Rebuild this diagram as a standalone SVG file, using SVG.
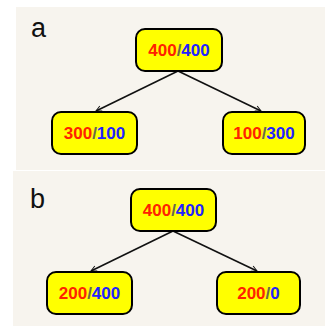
<svg xmlns="http://www.w3.org/2000/svg" width="325" height="326" viewBox="0 0 325 326">
<defs>
<style>
.bg{fill:#f7f4ee}
.node{fill:#ffff00;stroke:#000;stroke-width:2}
.t{font-family:"Liberation Sans",Arial,sans-serif;font-weight:bold;font-size:17px;text-anchor:middle}
.r{fill:#ff2200}
.b{fill:#2222ff}
.s{fill:#6a6a4a}
.lab{font-family:"Liberation Sans",Arial,sans-serif;font-size:27px;fill:#111}
.edge{stroke:#111;stroke-width:1.6;fill:none}
</style>
<marker id="arr" viewBox="0 0 10 10" refX="9" refY="5" markerWidth="7" markerHeight="7" orient="auto" markerUnits="userSpaceOnUse">
<path d="M1,1 L9,5 L1,9" fill="none" stroke="#111" stroke-width="1.4"/>
</marker>
</defs>
<rect class="bg" x="16" y="7" width="309" height="163"/>
<rect class="bg" x="13" y="171" width="312" height="155"/>
<text class="lab" x="31" y="37">a</text>
<text class="lab" x="30" y="208">b</text>
<g id="connectors">
<line class="edge" x1="178" y1="71" x2="96" y2="111" marker-end="url(#arr)"/>
<line class="edge" x1="178" y1="71" x2="261" y2="111" marker-end="url(#arr)"/>
<line class="edge" x1="173" y1="231" x2="91" y2="271" marker-end="url(#arr)"/>
<line class="edge" x1="173" y1="231" x2="257" y2="271" marker-end="url(#arr)"/>
</g>
<g id="a-root">
<rect class="node" x="136" y="29" width="86" height="42" rx="9"/>
<text class="t" x="179" y="56"><tspan class="r">400</tspan><tspan class="s">/</tspan><tspan class="b">400</tspan></text>
</g>
<g id="a-left">
<rect class="node" x="52" y="112" width="85" height="42" rx="9"/>
<text class="t" x="94.5" y="139"><tspan class="r">300</tspan><tspan class="s">/</tspan><tspan class="b">100</tspan></text>
</g>
<g id="a-right">
<rect class="node" x="223" y="112" width="82" height="42" rx="9"/>
<text class="t" x="264" y="139"><tspan class="r">100</tspan><tspan class="s">/</tspan><tspan class="b">300</tspan></text>
</g>
<g id="b-root">
<rect class="node" x="131" y="189" width="85" height="42" rx="9"/>
<text class="t" x="173.5" y="216"><tspan class="r">400</tspan><tspan class="s">/</tspan><tspan class="b">400</tspan></text>
</g>
<g id="b-left">
<rect class="node" x="47" y="272" width="85" height="42" rx="9"/>
<text class="t" x="89.5" y="299"><tspan class="r">200</tspan><tspan class="s">/</tspan><tspan class="b">400</tspan></text>
</g>
<g id="b-right">
<rect class="node" x="217" y="272" width="83" height="42" rx="9"/>
<text class="t" x="258.5" y="299"><tspan class="r">200</tspan><tspan class="s">/</tspan><tspan class="b">0</tspan></text>
</g>
</svg>
